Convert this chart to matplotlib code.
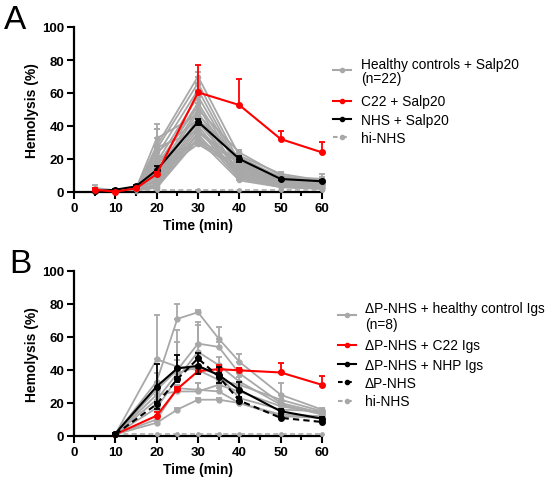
import matplotlib
matplotlib.use('Agg')
import matplotlib.pyplot as plt
from matplotlib.lines import Line2D
from matplotlib.ticker import MultipleLocator

plt.rcParams['font.family'] = ['Liberation Sans', 'DejaVu Sans']

GRAY = '#A8A8A8'
RED = '#FF0000'
BLACK = '#000000'

# ---------------- Panel A data ----------------
times_a = [5, 10, 15, 20, 30, 40, 50, 60]
healthy_a = [
    [2.5, 1.0, 2.0, 32.5, 47, 20, 8, 6],
    [1.0, 0.8, 1.5, 28, 70, 22, 11, 7],
    [0.5, 1.2, 2.5, 26, 66, 18, 9, 8],
    [1.5, 0.6, 1.0, 22, 62, 16, 7, 5],
    [0.8, 1.0, 2.2, 18, 58, 15, 6, 4],
    [1.2, 0.9, 1.8, 15, 54, 14, 5, 4],
    [0.6, 1.1, 3.0, 12, 50, 24, 10, 6],
    [1.0, 0.7, 1.2, 10, 48, 12, 5, 3],
    [0.9, 1.3, 2.8, 9, 45, 11, 4, 3],
    [1.3, 0.8, 0.9, 8, 42, 13, 6, 5],
    [0.7, 1.0, 1.6, 7, 40, 10, 4, 3],
    [1.1, 1.2, 2.1, 6, 38, 9, 3, 2],
    [0.4, 0.6, 0.8, 5, 36, 17, 7, 5],
    [1.0, 0.9, 1.4, 4, 35, 8, 3, 2],
    [0.8, 1.1, 2.4, 3, 33, 12, 5, 4],
    [1.4, 0.7, 1.1, 2.5, 32, 7, 3, 2],
    [0.6, 1.0, 1.9, 14, 31, 19, 8, 6],
    [1.2, 0.8, 1.3, 20, 30, 16, 6, 4],
    [0.5, 1.2, 2.6, 11, 29, 14, 5, 3],
    [0.9, 0.9, 1.7, 24, 44, 21, 9, 7],
    [1.1, 1.1, 2.3, 16, 52, 10, 4, 3],
    [0.7, 1.0, 1.0, 27, 37, 18, 7, 5],
]
healthy_a_err = [
    [1.5, 0.3, 0.5, 8.5, 3.0, 3.0, 1.0, 5.0],
    [0.5, 0.3, 0.5, 10.0, 3.0, 3.5, 1.0, 1.0],
    [0.5, 0.3, 0.5, 3.0, 4.0, 2.0, 1.0, 1.0],
    [0.5, 0.3, 0.5, 2.0, 3.0, 2.0, 1.0, 1.0],
    [0.5, 0.3, 0.5, 2.0, 3.0, 2.0, 1.0, 1.0],
    [0.5, 0.3, 0.5, 2.0, 2.0, 2.0, 1.0, 1.0],
    [0.5, 0.3, 0.5, 2.0, 2.0, 1.5, 1.0, 1.0],
    [0.5, 0.3, 0.5, 2.0, 2.0, 1.5, 1.0, 1.0],
    [0.5, 0.3, 0.5, 2.0, 2.0, 1.5, 1.0, 1.0],
    [0.5, 0.3, 0.5, 2.0, 2.0, 1.5, 1.0, 1.0],
    [0.5, 0.3, 0.5, 2.0, 2.0, 1.5, 1.0, 1.0],
    [0.5, 0.3, 0.5, 2.0, 2.0, 1.5, 1.0, 1.0],
    [0.5, 0.3, 0.5, 2.0, 2.0, 1.5, 1.0, 1.0],
    [0.5, 0.3, 0.5, 2.0, 2.0, 1.5, 1.0, 1.0],
    [0.5, 0.3, 0.5, 2.0, 2.0, 1.5, 1.0, 1.0],
    [0.5, 0.3, 0.5, 2.0, 2.0, 1.5, 1.0, 1.0],
    [0.5, 0.3, 0.5, 2.0, 2.0, 1.5, 1.0, 1.0],
    [0.5, 0.3, 0.5, 2.0, 2.0, 1.5, 1.0, 1.0],
    [0.5, 0.3, 0.5, 2.0, 2.0, 1.5, 1.0, 1.0],
    [0.5, 0.3, 0.5, 4.0, 2.0, 4.0, 1.0, 1.0],
    [0.5, 0.3, 0.5, 2.0, 2.0, 1.5, 1.0, 1.0],
    [0.5, 0.3, 0.5, 11.0, 2.0, 1.5, 1.0, 1.0],
]
c22_a = [1.4, 0.2, 2.2, 10.9, 60.4, 52.7, 32.1, 24.0]
c22_a_err = [0.8, 0.3, 0.5, 1.5, 16.8, 15.8, 5.1, 6.5]
nhs_a = [0.4, 1.4, 3.4, 13.3, 42.6, 20.0, 7.9, 6.5]
nhs_a_err = [0.3, 0.4, 0.6, 2.5, 1.8, 1.8, 0.8, 0.7]
hinhs_a = [1.0, 1.0, 1.0, 1.0, 1.0, 1.0, 1.0, 1.0]
labels_a = ['Healthy controls + Salp20\n(n=22)', 'C22 + Salp20',
            'NHS + Salp20', 'hi-NHS']

# ---------------- Panel B data ----------------
times_b = [10, 20, 25, 30, 35, 40, 50, 60]
healthy_b = [
    [1.0, 33.0, 71.0, 75.0, 59.0, 45.0, 25.0, 16.0],
    [1.0, 46.5, 42.0, 40.0, 34.0, 31.0, 22.0, 15.0],
    [1.0, 28.0, 40.0, 56.0, 54.0, 38.0, 20.0, 14.0],
    [1.0, 17.0, 35.0, 51.0, 43.0, 33.0, 19.0, 13.0],
    [1.0, 10.0, 29.0, 28.0, 27.0, 20.0, 12.0, 11.0],
    [1.0, 8.0, 16.0, 22.0, 22.0, 20.0, 13.0, 12.0],
    [1.0, 25.0, 27.0, 27.0, 31.0, 27.0, 18.0, 14.0],
    [1.0, 22.0, 38.0, 42.0, 37.0, 23.0, 16.0, 15.0],
]
healthy_b_err = [
    [0.3, 5.0, 9.0, 1.5, 7.0, 5.0, 7.0, 1.0],
    [0.3, 27.0, 4.0, 3.0, 3.0, 2.0, 3.0, 1.0],
    [0.3, 4.0, 24.0, 13.0, 3.0, 3.0, 2.0, 1.0],
    [0.3, 3.0, 22.0, 16.0, 5.0, 3.0, 2.0, 1.0],
    [0.3, 2.0, 2.0, 4.0, 2.0, 2.0, 1.5, 1.0],
    [0.3, 1.0, 1.0, 1.0, 1.0, 1.0, 1.0, 1.0],
    [0.3, 2.0, 2.0, 5.0, 5.0, 4.0, 2.0, 1.0],
    [0.3, 2.0, 4.0, 4.0, 6.0, 3.0, 3.0, 1.5],
]
c22_b = [1.0, 12.3, 28.5, 39.3, 40.5, 39.8, 38.5, 31.0]
c22_b_err = [0.3, 2.0, 1.5, 2.0, 2.5, 1.5, 5.5, 5.5]
nhp_b = [1.5, 30.0, 41.0, 42.5, 37.0, 28.0, 15.0, 10.5]
nhp_b_err = [0.3, 13.5, 8.0, 5.0, 5.0, 4.5, 1.5, 1.2]
dp_b = [1.0, 19.3, 34.5, 47.0, 36.0, 21.5, 11.0, 8.5]
dp_b_err = [0.3, 1.5, 1.5, 3.5, 2.0, 1.5, 1.0, 0.8]
hinhs_b = [1.0, 1.0, 1.0, 1.0, 1.0, 1.0, 1.0, 1.0]
labels_b = ['\u0394P-NHS + healthy control Igs\n(n=8)', '\u0394P-NHS + C22 Igs',
            '\u0394P-NHS + NHP Igs', '\u0394P-NHS', 'hi-NHS']

x_ticks = [0, 10, 20, 30, 40, 50, 60]
y_ticks = [0, 20, 40, 60, 80, 100]

W, H = 550, 481
LW = 1.5
MS = 4


def up(err):
    return [[0] * len(err), err]


def series(ax, x, y, err, color, ls='-', sym=False, lw=LW, ms=MS, z=2):
    yerr = [err, err] if sym else up(err)
    ax.errorbar(x, y, yerr=yerr, color=color, ls=ls, lw=lw, marker='o',
                ms=ms, capsize=2.5, elinewidth=1.3, capthick=1.3,
                clip_on=False, zorder=z)


def style(ax):
    ax.set_xlim(0, 60)
    ax.set_ylim(0, 100)
    for s in ['top', 'right']:
        ax.spines[s].set_visible(False)
    for s in ['left', 'bottom']:
        ax.spines[s].set_linewidth(1.6)
    ax.set_xticks(x_ticks)
    ax.set_xticklabels([str(t) for t in x_ticks], fontweight='bold', fontsize=9.5)
    ax.set_yticks(y_ticks)
    ax.set_yticklabels([str(t) for t in y_ticks], fontweight='bold', fontsize=9.5)
    ax.xaxis.set_minor_locator(MultipleLocator(5))
    ax.tick_params(which='major', length=5, width=1.5, pad=2)
    ax.tick_params(which='minor', length=3, width=1.5)
    ax.set_xlabel('Time (min)', fontweight='bold', fontsize=10, labelpad=3)
    ax.set_ylabel('Hemolysis (%)', fontweight='bold', fontsize=10, labelpad=2)


fig = plt.figure(figsize=(5.5, 4.81), dpi=100)
axA = fig.add_axes([74 / W, 1 - 193 / H, 248 / W, 165 / H])
axB = fig.add_axes([74 / W, 1 - 437 / H, 248 / W, 165 / H])

# Panel A
for yv, ev in zip(healthy_a, healthy_a_err):
    series(axA, times_a, yv, ev, GRAY, lw=1.3, ms=3, z=2)
axA.plot(times_a, hinhs_a, color=GRAY, ls=(0, (3, 2)), lw=1.2, marker='o',
         ms=2.5, clip_on=False, zorder=3)
series(axA, times_a, nhs_a, nhs_a_err, BLACK, sym=True, z=4)
series(axA, times_a, c22_a, c22_a_err, RED, z=5)
style(axA)

# Panel B
for yv, ev in zip(healthy_b, healthy_b_err):
    series(axB, times_b, yv, ev, GRAY, lw=1.3, ms=3.5, z=2)
axB.plot(times_b, hinhs_b, color=GRAY, ls=(0, (3, 2)), lw=1.2, marker='o',
         ms=2.5, clip_on=False, zorder=3)
series(axB, times_b, c22_b, c22_b_err, RED, z=4)
series(axB, times_b, dp_b, dp_b_err, BLACK, ls=(0, (3, 2)), z=5)
series(axB, times_b, nhp_b, nhp_b_err, BLACK, sym=True, z=6)
style(axB)


# ---------------- Manual legends (pixel layout) ----------------
def legend_entry(hx0, hx1, hy, tx, line_ys, label, color, ls='-'):
    fx = [hx0 / W, hx1 / W]
    fy = [1 - hy / H, 1 - hy / H]
    fig.add_artist(Line2D(fx, fy, color=color, ls=ls, lw=1.5,
                          transform=fig.transFigure))
    fig.add_artist(Line2D([(hx0 + hx1) / 2 / W], [1 - hy / H], color=color,
                          marker='o', ms=3, ls='none',
                          transform=fig.transFigure))
    for txt, ly in zip(label.split('\n'), line_ys):
        fig.text(tx / W, 1 - (ly + 4.6) / H, txt, fontsize=9.9,
                 va='baseline', ha='left')


DASH = (0, (2.2, 2.2))
legend_entry(333, 351, 70.7, 361, [64, 78.3], labels_a[0], GRAY)
legend_entry(333, 351, 101.7, 361, [101.7], labels_a[1], RED)
legend_entry(333, 351, 120, 361, [120], labels_a[2], BLACK)
legend_entry(333, 351, 138.3, 361, [138.3], labels_a[3], GRAY, DASH)

legend_entry(338, 356, 315.7, 365, [308.3, 324.3], labels_b[0], GRAY)
legend_entry(338, 356, 345.7, 365, [345.7], labels_b[1], RED)
legend_entry(338, 356, 365, 365, [365], labels_b[2], BLACK)
legend_entry(338, 356, 383.3, 365, [383.3], labels_b[3], BLACK, DASH)
legend_entry(338, 356, 401.7, 365, [401.7], labels_b[4], GRAY, DASH)

fig.text(4 / W, 1 - 5 / H, 'A', fontsize=24, va='top', ha='left')
fig.text(9 / W, 1 - 249 / H, 'B', fontsize=24, va='top', ha='left')

fig.savefig('out.png', dpi=100)
